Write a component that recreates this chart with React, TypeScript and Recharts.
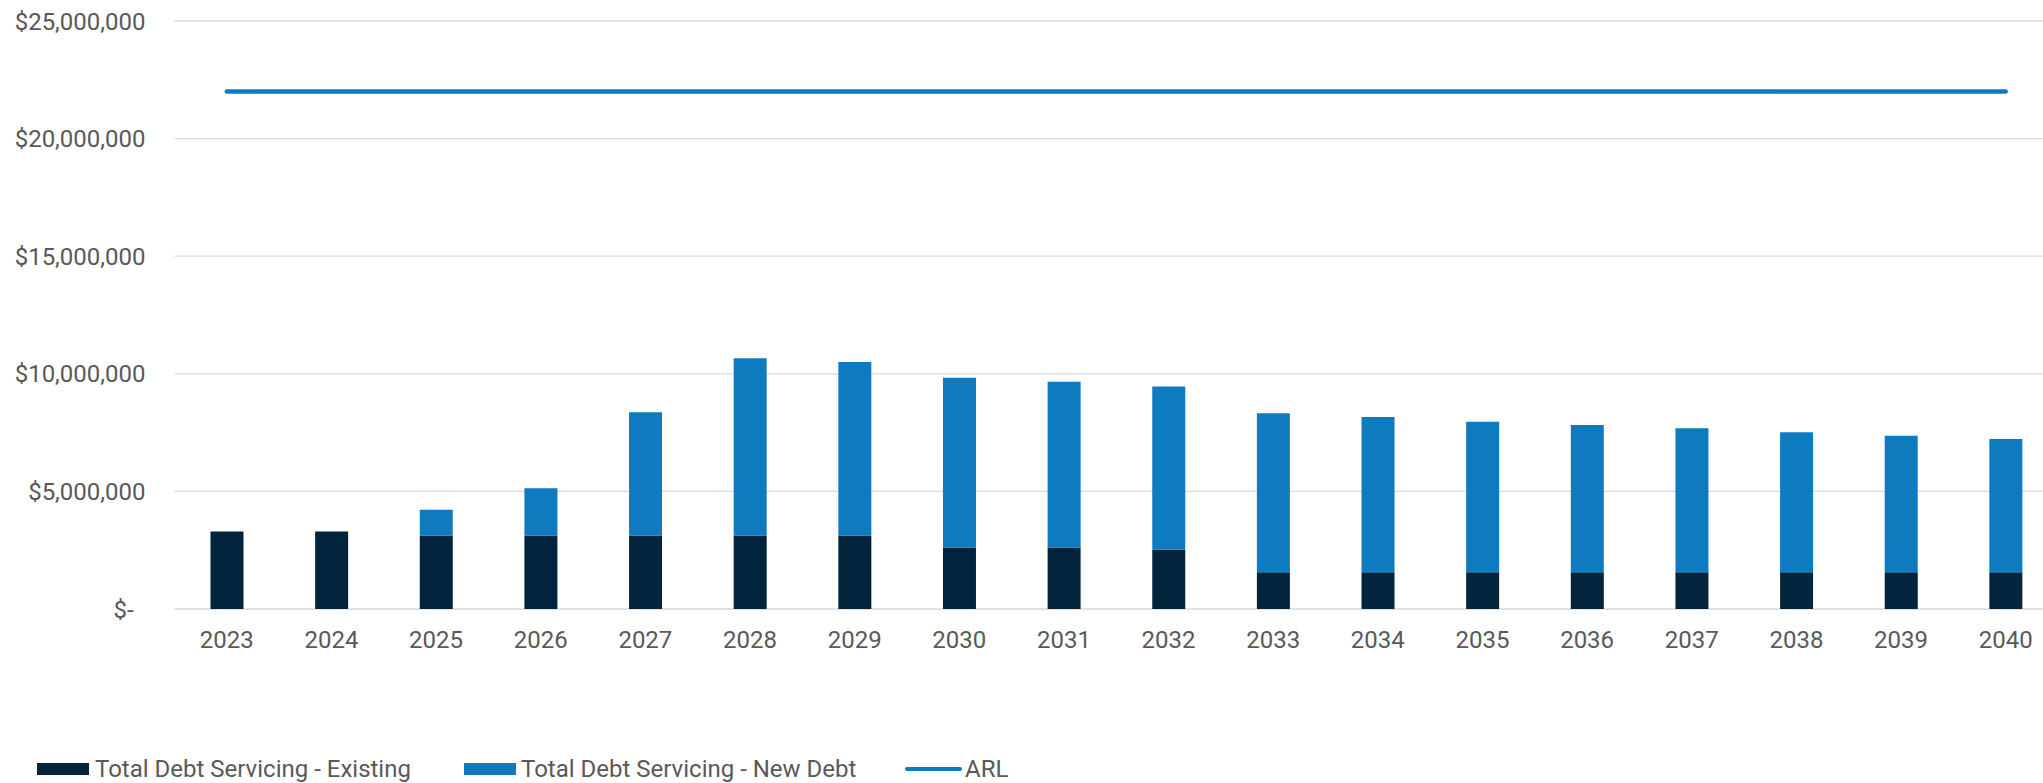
import React from 'react';
import { ComposedChart, Bar, Line, XAxis, YAxis, CartesianGrid } from 'recharts';

const years = ['2023', '2024', '2025', '2026', '2027', '2028', '2029', '2030', '2031', '2032', '2033', '2034', '2035', '2036', '2037', '2038', '2039', '2040'];

const existingDebt = [3290000, 3290000, 3120000, 3120000, 3120000, 3120000, 3120000, 2610000, 2610000, 2530000, 1560000, 1560000, 1560000, 1560000, 1560000, 1560000, 1560000, 1560000];

const newDebt = [0, 0, 1100000, 2010000, 5240000, 7540000, 7380000, 7220000, 7050000, 6930000, 6760000, 6600000, 6400000, 6260000, 6130000, 5960000, 5810000, 5670000];

const arl = [22000000, 22000000, 22000000, 22000000, 22000000, 22000000, 22000000, 22000000, 22000000, 22000000, 22000000, 22000000, 22000000, 22000000, 22000000, 22000000, 22000000, 22000000];

const yTicks = [0, 5000000, 10000000, 15000000, 20000000, 25000000];

const DARK = '#02243D';
const BLUE = '#0E7ABF';
const TEXT = '#595959';
const FONT = 'Roboto, sans-serif';

const data = years.map((year, i) => ({
  year,
  existing: existingDebt[i],
  newDebt: newDebt[i],
  arl: arl[i]
}));

const formatMoney = (v: number) =>
  v === 0 ? '$-\u00A0\u00A0' : '$' + v.toLocaleString('en-US');

export default function App() {
  return (
    <div
      style={{
        position: 'fixed',
        left: 0,
        top: 0,
        width: 2043,
        height: 783,
        overflow: 'hidden',
        background: '#fff',
        fontFamily: FONT
      }}
    >
      <ComposedChart
        width={2070}
        height={700}
        data={data}
        margin={{ top: 21, right: 12, left: 0, bottom: 31 }}
      >
        <CartesianGrid vertical={false} stroke="#d9d9d9" strokeWidth={1.3} />
        <XAxis
          dataKey="year"
          axisLine={false}
          tickLine={false}
          height={60}
          tickMargin={16}
          interval={0}
          tick={{ fill: TEXT, fontSize: 24, fontFamily: FONT }}
        />
        <YAxis
          domain={[0, 25000000]}
          ticks={yTicks}
          width={174.5}
          axisLine={false}
          tickLine={false}
          tickMargin={23}
          tickFormatter={formatMoney}
          tick={{ fill: TEXT, fontSize: 24, fontFamily: FONT }}
        />
        <Bar dataKey="existing" stackId="a" fill={DARK} barSize={33} isAnimationActive={false} />
        <Bar dataKey="newDebt" stackId="a" fill={BLUE} barSize={33} isAnimationActive={false} />
        <Line
          dataKey="arl"
          type="linear"
          stroke={BLUE}
          strokeWidth={4.5}
          strokeLinecap="round"
          dot={false}
          activeDot={false}
          isAnimationActive={false}
        />
      </ComposedChart>

      <div style={{ position: 'absolute', left: 37, top: 752, height: 34, display: 'flex', alignItems: 'center', color: TEXT, fontSize: 24 }}>
        <div style={{ width: 52, height: 12.5, background: DARK, marginRight: 6 }} />
        <span>Total Debt Servicing - Existing</span>
      </div>
      <div style={{ position: 'absolute', left: 464, top: 752, height: 34, display: 'flex', alignItems: 'center', color: TEXT, fontSize: 24 }}>
        <div style={{ width: 52, height: 12.5, background: BLUE, marginRight: 5 }} />
        <span>Total Debt Servicing - New Debt</span>
      </div>
      <div style={{ position: 'absolute', left: 905, top: 752, height: 34, display: 'flex', alignItems: 'center', color: TEXT, fontSize: 24 }}>
        <div style={{ width: 57, height: 4.7, borderRadius: 3, background: BLUE, marginRight: 3 }} />
        <span>ARL</span>
      </div>
    </div>
  );
}
